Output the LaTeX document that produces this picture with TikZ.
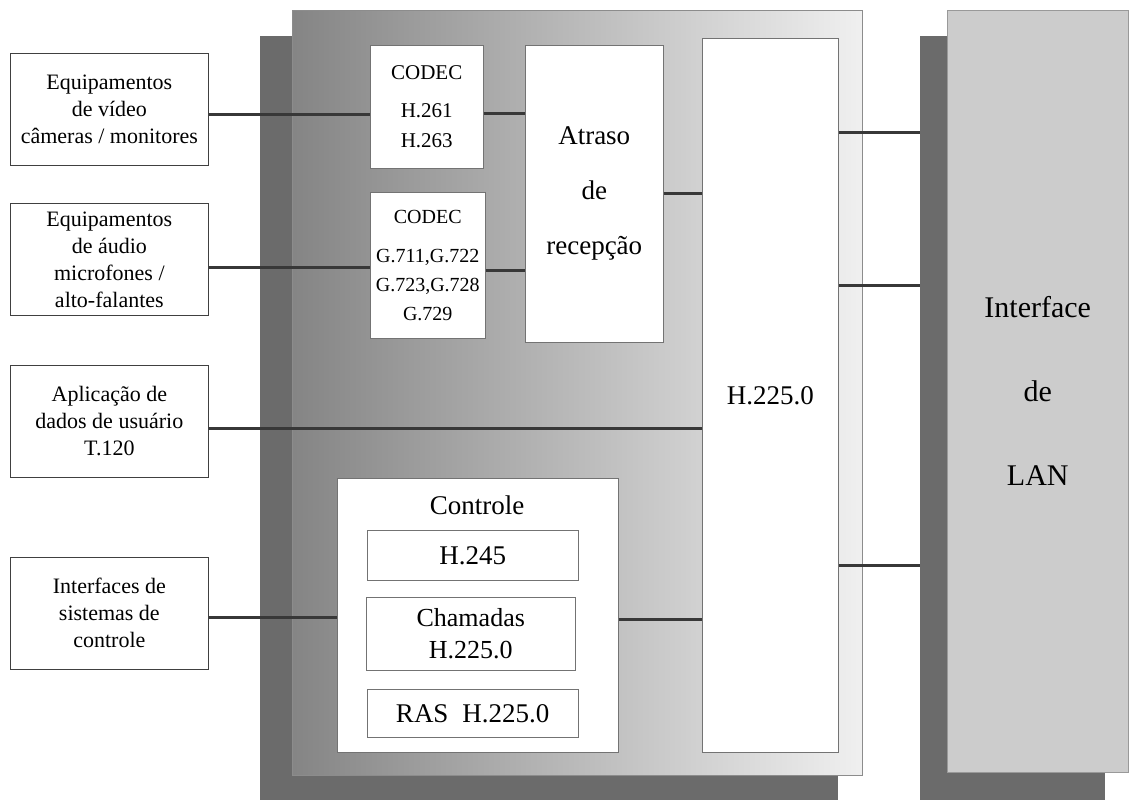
\documentclass[tikz,border=0pt]{standalone}
\usepackage{fontspec}
\setmainfont{Liberation Serif}

\begin{document}
\begin{tikzpicture}[
        x=1pt, y=-1pt,
        back/.style={fill=black!58, draw=none, inner sep=0pt, anchor=north west},
        unit/.style={draw=black!55, line width=.5pt, fill=white, inner sep=0pt,
            anchor=north west, align=center},
        ext/.style={draw=black!75, line width=.7pt, fill=white, inner sep=0pt,
            anchor=north west, align=center, minimum width=198pt,
            minimum height=112pt, font=\fontsize{22}{27}\selectfont},
        big/.style={font=\fontsize{27}{32}\selectfont},
        link/.style={line width=3pt, draw=black!78},
    ]
    \useasboundingbox (0,0) rectangle (1130,801);

    %% terminal block with its shadow
    \fill[black!58] (260,36) rectangle (838,800);
    \draw[draw=black!45, line width=.5pt, left color=black!48, right color=black!6]
        (292,10) rectangle (862,775);

    %% LAN interface
    \node[back, minimum width=185pt, minimum height=764pt] (lanback) at (920,36) {};
    \node[draw=black!40, line width=.5pt, fill=black!20, inner sep=0pt, anchor=north west,
        minimum width=181pt, minimum height=762pt, align=center,
        font=\fontsize{30}{84}\selectfont] (lan) at (947,10) {Interface\\de\\LAN};

    %% outside equipment
    \node[ext] (video) at (10,53) {Equipamentos\\de vídeo\\câmeras / monitores};
    \node[ext] (audio) at (10,203) {Equipamentos\\de áudio\\microfones /\\alto-falantes};
    \node[ext] (app) at (10,365) {Aplicação de\\dados de usuário\\T.120};
    \node[ext] (ctrlif) at (10,557) {Interfaces de\\sistemas de\\controle};

    %% inside the terminal
    \node[unit, minimum width=113pt, minimum height=123pt,
        font=\fontsize{21}{30}\selectfont] (codecv) at (370,45) {CODEC\\[8pt]H.261\\H.263};
    \node[unit, minimum width=115pt, minimum height=146pt,
        font=\fontsize{20}{29}\selectfont] (codeca) at (370,192)
        {CODEC\\[10pt]G.711,G.722\\G.723,G.728\\G.729};
    \node[unit, minimum width=138pt, minimum height=297pt,
        font=\fontsize{27}{55}\selectfont] (atraso) at (525,45) {Atraso\\de\\recepção};
    \node[unit, big, minimum width=136pt, minimum height=714pt] (h225) at (702,38) {H.225.0};

    \node[unit, minimum width=281pt, minimum height=274pt] (ctrl) at (337,478) {};
    \node[big] (ctrltitle) at (477,505) {Controle};
    \node[unit, big, minimum width=211pt, minimum height=50pt] (h245) at (367,530) {H.245};
    \node[unit, minimum width=209pt, minimum height=73pt,
        font=\fontsize{26}{32}\selectfont] (chamadas) at (366,597) {Chamadas\\H.225.0};
    \node[unit, big, minimum width=211pt, minimum height=48pt] (ras) at (367,689)
        {RAS\hspace{14pt}H.225.0};

    %% connections
    \draw[link] (video.east |- 0,114) -- (codecv.west |- 0,114);
    \draw[link] (codecv.east |- 0,113) -- (atraso.west |- 0,113);
    \draw[link] (audio.east |- 0,267) -- (codeca.west |- 0,267);
    \draw[link] (codeca.east |- 0,270) -- (atraso.west |- 0,270);
    \draw[link] (atraso.east |- 0,193) -- (h225.west |- 0,193);
    \draw[link] (app.east |- 0,428) -- (h225.west |- 0,428);
    \draw[link] (ctrlif.east |- 0,617) -- (ctrl.west |- 0,617);
    \draw[link] (ctrl.east |- 0,619) -- (h225.west |- 0,619);
    \foreach \y in {132, 285, 565}{
        \draw[link] (h225.east |- 0,\y) -- (lanback.west |- 0,\y);
    }
\end{tikzpicture}
\end{document}
